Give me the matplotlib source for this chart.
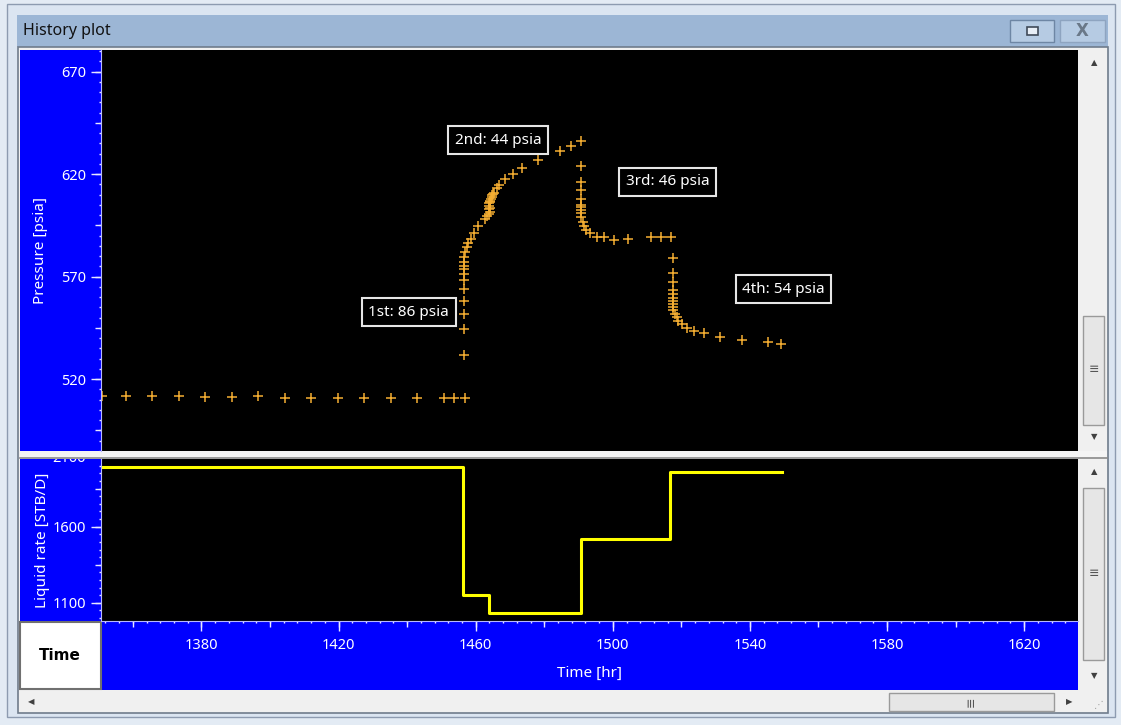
import matplotlib
matplotlib.use("Agg")
import matplotlib.pyplot as plt
from matplotlib.patches import Rectangle
from matplotlib.ticker import MultipleLocator, NullLocator
from matplotlib.transforms import blended_transform_factory, Bbox, TransformedBbox

plt.rcParams['font.family'] = ['Noto Sans', 'DejaVu Sans']

# pressure history (hr, psia)
pressureTime = [1350.9, 1358.0, 1365.7, 1373.5, 1381.1, 1389.0, 1396.5, 1404.4,
                1411.9, 1419.8, 1427.5, 1435.3, 1442.9, 1450.7, 1453.6, 1456.8,
                1456.6, 1456.6, 1456.6, 1456.6, 1456.6, 1456.6, 1456.6, 1456.6,
                1456.6, 1456.6, 1456.6, 1456.9, 1457.4, 1457.9, 1458.6, 1459.5,
                1460.8, 1462.7, 1463.4, 1464.0, 1464.1, 1464.0, 1464.1, 1464.0,
                1464.0, 1464.2, 1464.3, 1464.5, 1464.7, 1464.9, 1465.0, 1465.3,
                1466.1, 1466.9, 1468.5, 1470.8, 1473.6, 1478.3, 1484.6, 1487.7,
                1490.7,
                1490.7, 1490.7, 1490.7, 1490.7, 1490.7, 1490.7, 1490.7, 1490.7,
                1490.7, 1491.2, 1491.6, 1492.2, 1493.4, 1495.3, 1497.4, 1500.4,
                1504.5, 1511.1, 1514.1, 1517.0,
                1517.5, 1517.5, 1517.5, 1517.5, 1517.5, 1517.5, 1517.5, 1517.5,
                1517.5, 1517.7, 1518.2, 1518.7, 1519.1, 1520.1, 1521.6, 1523.7,
                1526.6, 1531.3, 1537.6, 1545.4, 1549.1]
pressureValue = [511.8, 511.7, 511.6, 511.6, 511.5, 511.5, 511.6, 511.0,
                 511.0, 510.9, 510.9, 510.9, 511.0, 510.8, 510.8, 510.8,
                 531.7, 544.4, 552.0, 558.0, 563.9, 568.3, 571.2, 573.7,
                 575.3, 577.2, 579.7, 582.1, 584.5, 586.5, 588.6, 591.1,
                 594.6, 598.0, 599.5, 600.5, 601.6, 602.8, 603.6, 604.4,
                 605.7, 606.3, 607.0, 608.1, 608.9, 609.8, 610.3, 610.9,
                 613.0, 614.6, 617.4, 620.0, 623.1, 626.8, 631.4, 633.8,
                 636.1,
                 624.0, 616.2, 612.2, 607.8, 604.9, 603.8, 602.4, 600.8,
                 598.9, 596.7, 594.6, 592.7, 591.1, 589.4, 589.1, 588.1,
                 588.3, 589.1, 589.1, 589.4,
                 578.9, 571.9, 567.2, 563.4, 561.5, 559.4, 558.2, 556.9,
                 555.3, 553.7, 552.0, 550.1, 548.4, 546.8, 545.2, 543.6,
                 542.3, 540.6, 539.0, 538.2, 537.4]

# liquid rate steps (hr, STB/D)
rateTime = [1350.0, 1456.4, 1463.9, 1490.7, 1516.7, 1549.3]
rateValue = [1990, 1150, 1030, 1520, 1960, 1960]

# pressure change labels
annotLabels = ["1st: 86 psia", "2nd: 44 psia", "3rd: 46 psia", "4th: 54 psia"]
annotTime = [1440.5, 1466.5, 1516.0, 1549.8]
annotPressure = [552.7, 636.6, 616.3, 563.9]

W, H = 1121, 725
BLUE = '#0000ff'
TICKCOL = '#e8e8ff'


def addBox(ax, x0, y0, x1, y1, face, edge='none', lw=1.0, z=1):
    ax.add_patch(Rectangle((x0, y0), x1 - x0, y1 - y0, facecolor=face,
                           edgecolor=edge, linewidth=lw, zorder=z))


def figRect(x0, y0, x1, y1):
    return [x0 / W, (H - y1) / H, (x1 - x0) / W, (y1 - y0) / H]


# window chrome drawn in pixel coordinates
def drawWindow(fig):
    bg = fig.add_axes([0, 0, 1, 1], zorder=-5)
    bg.set_xlim(0, W)
    bg.set_ylim(H, 0)
    bg.axis('off')
    addBox(bg, 7, 4, 1115, 717, '#dbe5f1', '#8d9bb0', 1.0)
    addBox(bg, 17, 15, 1108, 47, '#9cb6d5')
    bg.text(23, 31, "History plot", fontsize=11.5, va='center', ha='left', color='#111111')
    addBox(bg, 1010, 20, 1054, 42, '#b6cbe3', '#6e86a4', 1.0, 2)
    addBox(bg, 1027, 27, 1038, 35, '#e8eef6', '#404a58', 1.2, 3)
    addBox(bg, 1060, 20, 1105, 42, '#b6cbe3', '#8ea4c0', 1.0, 2)
    bg.text(1082, 31, "X", fontsize=12, fontweight='bold', ha='center', va='center',
            color='#6a7888', family='DejaVu Sans', zorder=3)
    addBox(bg, 18, 47, 1108, 713, '#f0f0f0', '#6f7c8c', 1.2)
    addBox(bg, 20, 50, 101, 451, BLUE, z=2)
    addBox(bg, 20, 459, 101, 621, BLUE, z=2)
    addBox(bg, 101, 621, 1078, 690, BLUE, z=2)
    addBox(bg, 20, 451, 1107, 459, '#f4f4f4', z=2)
    bg.plot([20, 1107], [458, 458], color='#8a8a8a', lw=1.2, zorder=3)
    addBox(bg, 20, 622, 101, 689, 'white', '#707070', 1.5, 3)
    bg.text(60, 655, "Time", fontsize=11, fontweight='bold', ha='center', va='center',
            family='DejaVu Sans', zorder=4)
    # scrollbars
    addBox(bg, 1078, 50, 1107, 451, '#f0f0f0', z=2)
    addBox(bg, 1078, 459, 1107, 690, '#f0f0f0', z=2)
    addBox(bg, 1083, 316, 1104, 425, '#e6e6e6', '#9a9a9a', 1.0, 3)
    addBox(bg, 1083, 488, 1104, 660, '#e6e6e6', '#9a9a9a', 1.0, 3)
    addBox(bg, 20, 690, 1107, 712, '#f0f0f0', z=2)
    addBox(bg, 889, 693, 1054, 711, '#e6e6e6', '#9a9a9a', 1.0, 3)
    for (x, y, s) in [(1094, 63, '▲'), (1094, 437, '▼'), (1094, 472, '▲'),
                      (1094, 676, '▼'), (31, 702, '◀'), (1069, 702, '▶')]:
        bg.text(x, y, s, fontsize=6, ha='center', va='center', color='#404040',
                family='DejaVu Sans', zorder=4)
    for (x, y, s, r) in [(1094, 369, '≡', 0), (1094, 574, '≡', 0), (971, 702, '≡', 90)]:
        bg.text(x, y, s, fontsize=9, ha='center', va='center', color='#555555',
                family='DejaVu Sans', rotation=r, zorder=4)
    bg.text(1099, 705, '⋰', fontsize=7, ha='center', va='center', color='#a0a0a0',
            family='DejaVu Sans', zorder=4)
    return bg


def styleAxis(ax):
    ax.set_facecolor('black')
    for side in ['top', 'right', 'bottom', 'left']:
        ax.spines[side].set_visible(False)
    ax.spines['left'].set_visible(True)
    ax.spines['left'].set_color('#b8b8ff')


def addMediumTicks(ax, axis, step, offset):
    if axis == 'y':
        sec = ax.secondary_yaxis('left')
        sec.yaxis.set_major_locator(MultipleLocator(step, offset=offset))
        sec.yaxis.set_minor_locator(NullLocator())
        sec.tick_params(axis='y', length=4.5, width=1, color=TICKCOL, labelleft=False)
        sec.spines['left'].set_visible(False)
    else:
        sec = ax.secondary_xaxis('bottom')
        sec.xaxis.set_major_locator(MultipleLocator(step, offset=offset))
        sec.xaxis.set_minor_locator(NullLocator())
        sec.tick_params(axis='x', length=4.5, width=1, color=TICKCOL, labelbottom=False)
        sec.spines['bottom'].set_visible(False)


def main():
    fig = plt.figure(figsize=(W / 100, H / 100), dpi=100)
    fig.patch.set_facecolor('#e3ebf4')
    drawWindow(fig)

    ax1 = fig.add_axes(figRect(101, 50, 1078, 451))
    ax2 = fig.add_axes(figRect(101, 459, 1078, 621), sharex=ax1)
    styleAxis(ax1)
    styleAxis(ax2)
    ax2.spines['bottom'].set_visible(True)
    ax2.spines['bottom'].set_color('#b8b8ff')

    # pressure
    ax1.plot(pressureTime, pressureValue, linestyle='none', marker='+', ms=7, mew=1.1,
             color='#f5ae32')
    for lab, t, p in zip(annotLabels, annotTime, annotPressure):
        ax1.text(t, p, lab, fontsize=11, color='white', ha='center', va='center',
                 bbox=dict(boxstyle='square,pad=0.42', facecolor='black',
                           edgecolor='#e6e6e6', linewidth=1.5))
    ax1.set_xlim(1350.7, 1635.7)
    ax1.set_ylim(485, 680.5)
    ax1.yaxis.set_major_locator(MultipleLocator(50, offset=20))
    ax1.yaxis.set_minor_locator(MultipleLocator(5))
    ax1.tick_params(axis='y', which='major', length=7.5, width=1, color=TICKCOL,
                    labelcolor='white', labelsize=10.5, pad=3)
    ax1.tick_params(axis='y', which='minor', length=1.5, width=1, color=TICKCOL)
    ax1.tick_params(axis='x', which='both', bottom=False, labelbottom=False)
    addMediumTicks(ax1, 'y', 25, 20)
    ax1.set_ylabel("Pressure [psia]", color='white', fontsize=11, labelpad=10)

    # liquid rate
    ax2.step(rateTime, rateValue, where='post', color='#ffff00', lw=2.2)
    ax2.set_ylim(980, 2045)
    ax2.yaxis.set_major_locator(MultipleLocator(500, offset=100))
    ax2.yaxis.set_minor_locator(MultipleLocator(50))
    ax2.tick_params(axis='y', which='major', length=7.5, width=1, color=TICKCOL,
                    labelcolor='white', labelsize=10.5, pad=3)
    ax2.tick_params(axis='y', which='minor', length=1.5, width=1, color=TICKCOL)
    addMediumTicks(ax2, 'y', 250, 100)
    ax2.set_ylabel("Liquid rate [STB/D]", color='white', fontsize=11, labelpad=2)
    # top label sits above the axis and is cut by the separator
    trans = blended_transform_factory(ax2.transAxes, ax2.transData)
    cut = ax2.text(-0.0154, 2100, "2100", transform=trans, ha='right', va='top',
                   fontsize=10.5, color='white')
    cut.set_clip_box(TransformedBbox(Bbox([[20 / W, (H - 621) / H],
                                           [101 / W, (H - 459) / H]]), fig.transFigure))
    cut.set_clip_on(True)

    ax2.xaxis.set_major_locator(MultipleLocator(40, offset=20))
    ax2.xaxis.set_minor_locator(MultipleLocator(4))
    ax2.tick_params(axis='x', which='major', length=7.5, width=1, color=TICKCOL,
                    labelcolor='white', labelsize=10.5, pad=5)
    ax2.tick_params(axis='x', which='minor', length=1.5, width=1, color=TICKCOL)
    addMediumTicks(ax2, 'x', 20, 0)
    ax2.set_xlabel("Time [hr]", color='white', fontsize=11, labelpad=9)

    fig.savefig("out.png", dpi=100, facecolor=fig.get_facecolor())


if __name__ == "__main__":
    main()
